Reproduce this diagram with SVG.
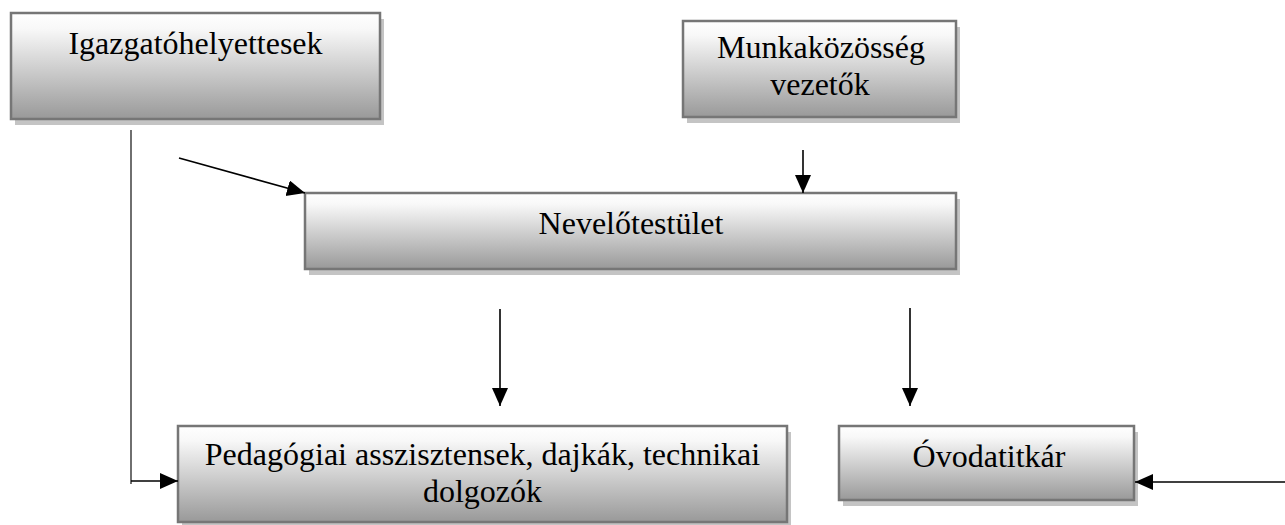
<svg xmlns="http://www.w3.org/2000/svg" width="1285" height="525" viewBox="0 0 1285 525">
  <defs>
    <linearGradient id="boxGrad" x1="0" y1="0" x2="0" y2="1">
      <stop offset="0" stop-color="#ffffff"/>
      <stop offset="0.15" stop-color="#f8f8f8"/>
      <stop offset="1" stop-color="#999999"/>
    </linearGradient>
    <marker id="arrow" markerUnits="userSpaceOnUse" markerWidth="20" markerHeight="18" refX="18" refY="8" orient="auto">
      <path d="M0,0 L18,8 L0,16 z" fill="#000"/>
    </marker>
  </defs>
  <style>
    .shadow { fill: #c4c4c4; }
    .box { fill: url(#boxGrad); stroke: #767676; stroke-width: 2.5; }
    .label { font-size: 32px; fill: #000; text-anchor: middle; }
    .conn { stroke: #000; stroke-width: 1.6; fill: none; }
    .plain { stroke: #333; stroke-width: 1.4; fill: none; }
  </style>
  <rect width="1285" height="525" fill="#ffffff"/>

  <g font-family="'Liberation Serif', Tinos, 'Times New Roman', 'DejaVu Serif', serif">
  <g id="node-igazgatohelyettesek">
    <rect class="shadow" x="15" y="19" width="369" height="106"/>
    <rect class="box" x="11" y="13" width="369" height="106"/>
    <text class="label" x="195.5" y="54">Igazgatóhelyettesek</text>
  </g>

  <g id="node-munkakozosseg">
    <rect class="shadow" x="687" y="27" width="273" height="96"/>
    <rect class="box" x="683" y="21" width="273" height="96"/>
    <text class="label" x="821" y="58">Munkaközösség</text>
    <text class="label" x="820" y="95">vezetők</text>
  </g>

  <g id="node-nevelotestulet">
    <rect class="shadow" x="309" y="199" width="651" height="76"/>
    <rect class="box" x="305" y="193" width="651" height="76"/>
    <text class="label" x="631" y="234">Nevelőtestület</text>
  </g>

  <g id="node-pedagogiai">
    <rect class="shadow" x="182" y="432" width="609" height="96"/>
    <rect class="box" x="178" y="426" width="609" height="96"/>
    <text class="label" x="482.5" y="465">Pedagógiai asszisztensek, dajkák, technikai</text>
    <text class="label" x="482.5" y="502">dolgozók</text>
  </g>

  <g id="node-ovodatitkar">
    <rect class="shadow" x="843" y="432" width="295" height="74"/>
    <rect class="box" x="839" y="426" width="295" height="74"/>
    <text class="label" x="989" y="467">Óvodatitkár</text>
  </g>
  </g>

  <g id="connectors">
    <line class="plain" x1="131" y1="130" x2="131" y2="484"/>
    <line class="conn" x1="131" y1="481" x2="178" y2="481" marker-end="url(#arrow)"/>
    <line class="conn" x1="179" y1="158" x2="305" y2="193" marker-end="url(#arrow)"/>
    <line class="conn" x1="803" y1="150" x2="803" y2="193" marker-end="url(#arrow)"/>
    <line class="conn" x1="500" y1="309" x2="500" y2="406" marker-end="url(#arrow)"/>
    <line class="conn" x1="910" y1="308" x2="910" y2="406" marker-end="url(#arrow)"/>
    <line class="conn" x1="1285" y1="482" x2="1135" y2="482" marker-end="url(#arrow)"/>
  </g>
</svg>
